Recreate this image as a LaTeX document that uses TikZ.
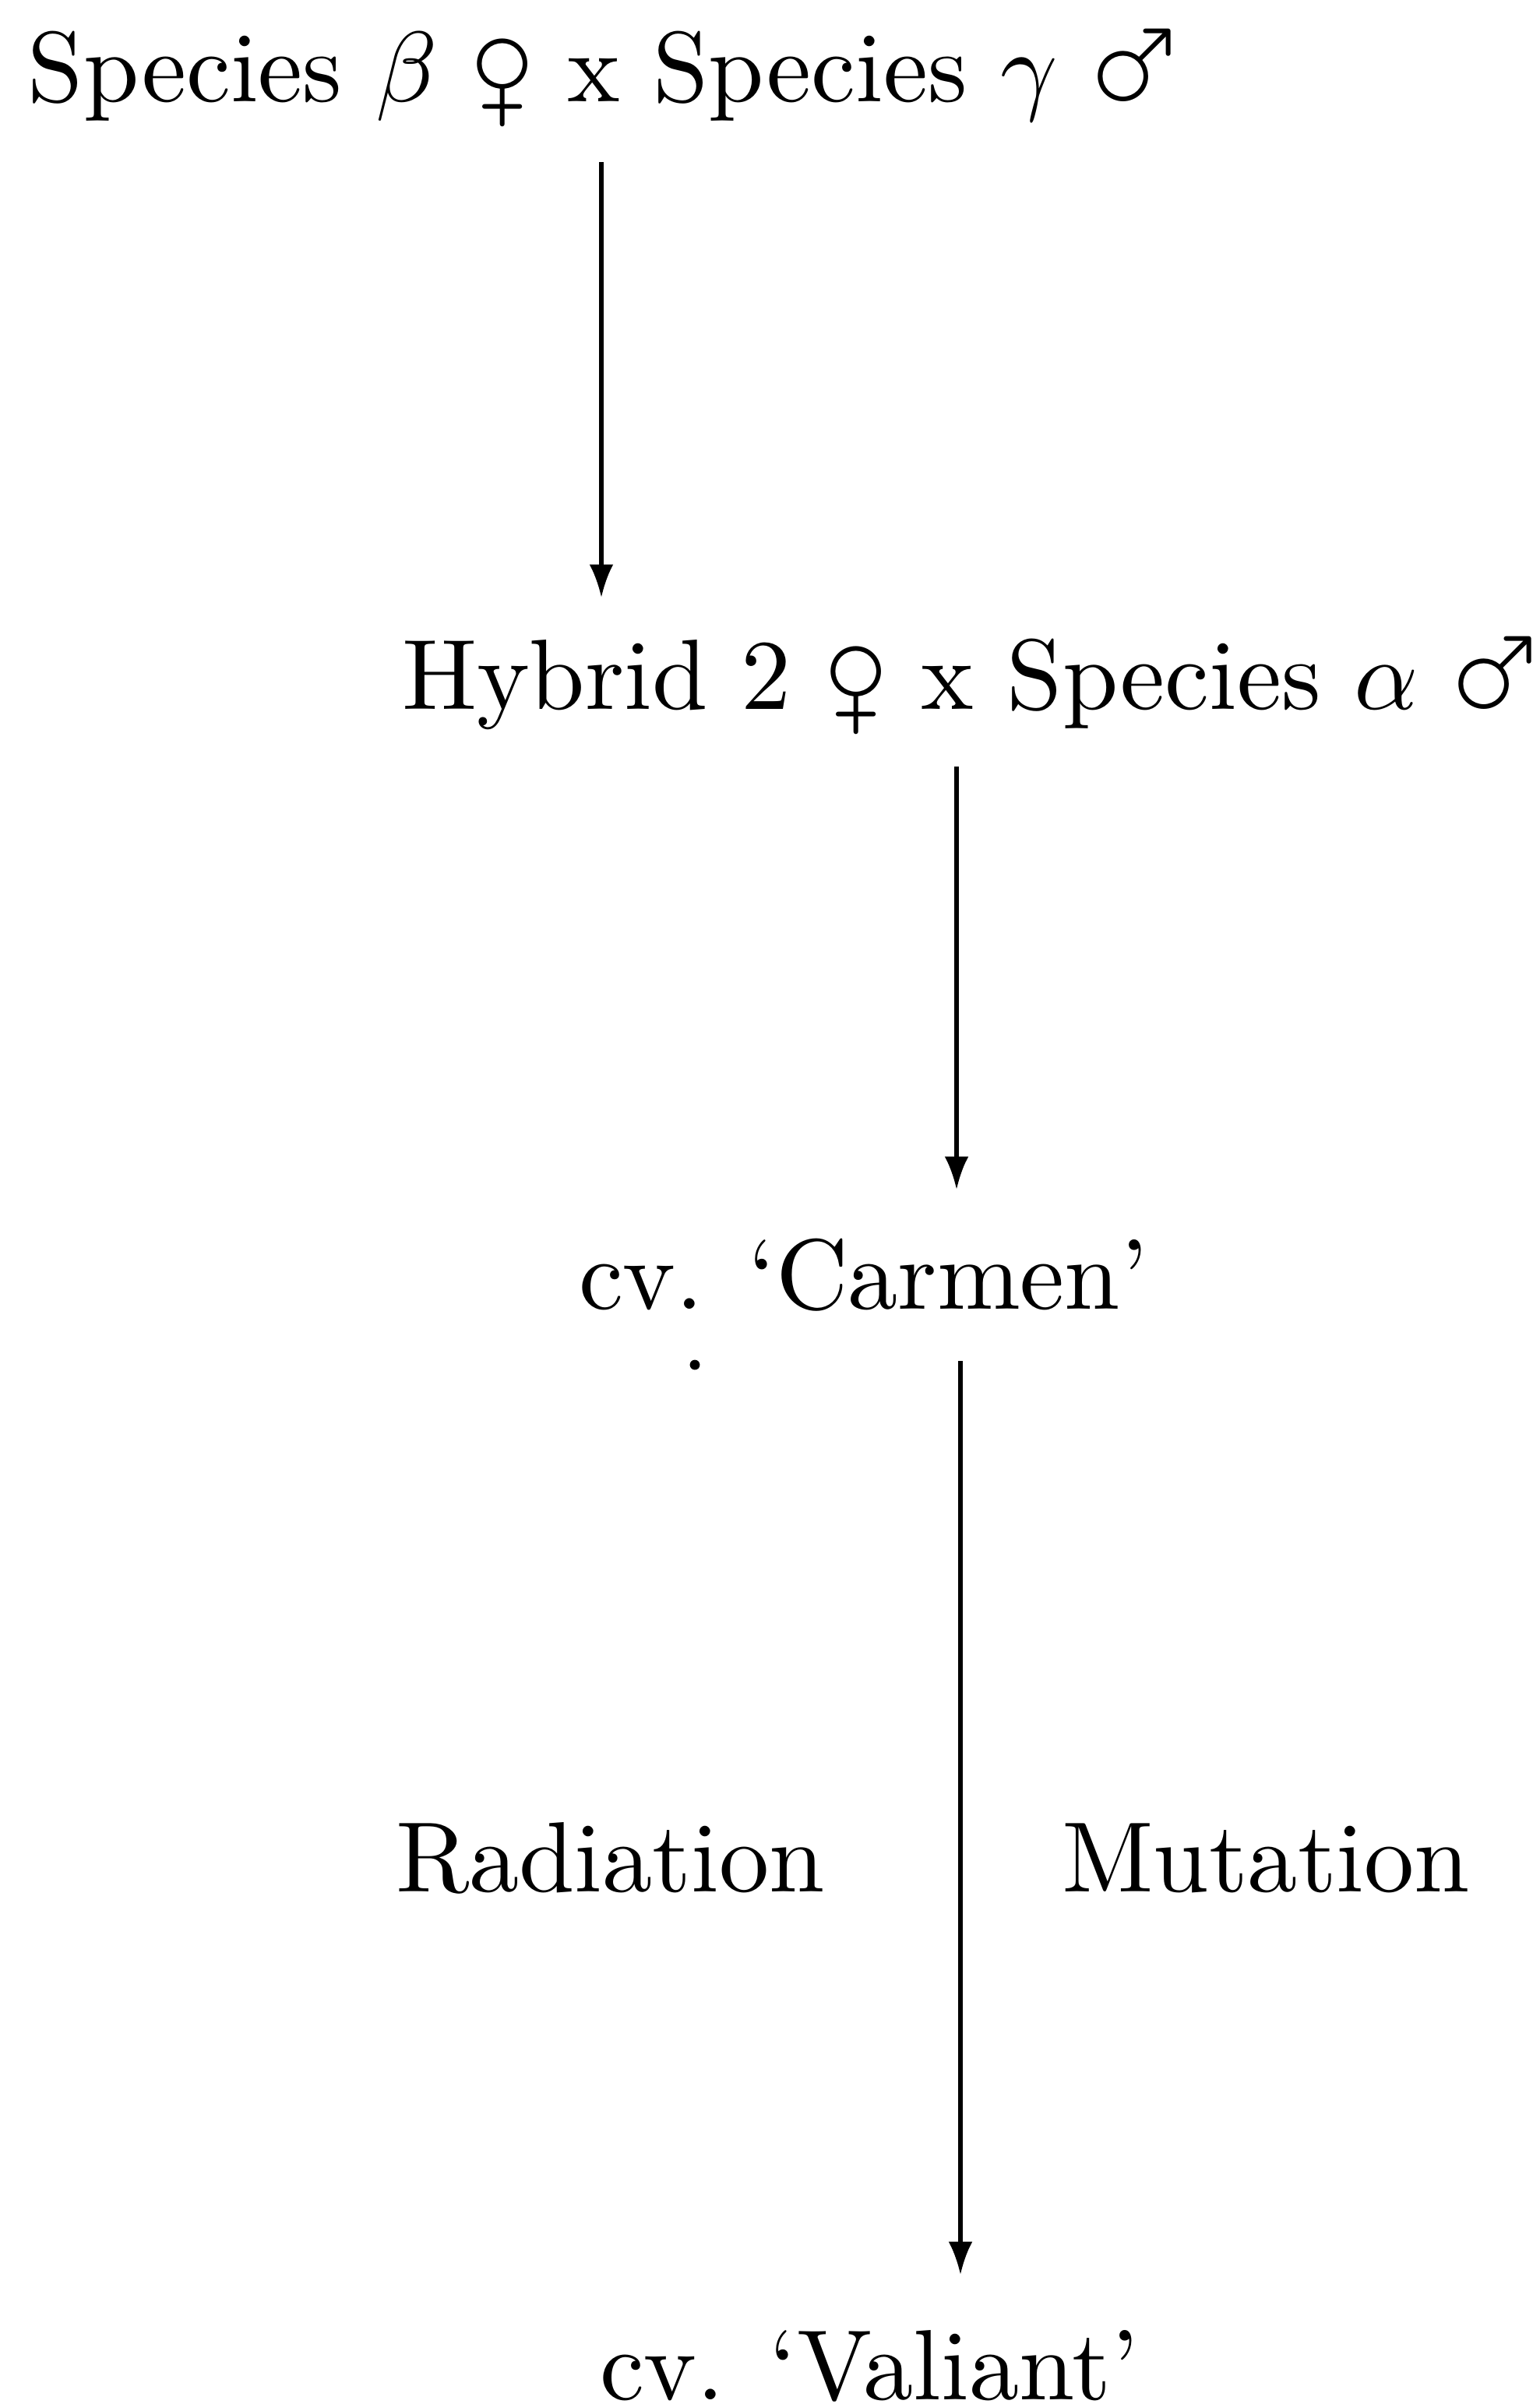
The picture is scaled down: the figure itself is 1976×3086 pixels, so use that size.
\documentclass[tikz,border=0pt]{standalone}
\usepackage{wasysym}
\usetikzlibrary{arrows.meta,calc}
\newcommand\femsym{\scalebox{1.17}{\female}}
\newcommand\malsym{\scalebox{1.17}{\male}}
\tikzset{
  lbl/.style={inner sep=0pt, outer sep=0pt, anchor=base west, font=\fontsize{10}{12}\selectfont},
  arr/.style={line width=0.4pt, -{Latex[length=3.3pt,width=2.4pt]}},
}
\begin{document}
\begin{tikzpicture}[x=0.07794pt,y=-0.07794pt]
\useasboundingbox (0,0) rectangle (1976,3086);
\node[lbl] (top) at (36,131) {Species $\beta$ \femsym{} x Species $\gamma$ \malsym};
\node[lbl] (hyb) at (516,910) {Hybrid 2 \femsym{} x Species $\alpha$ \malsym};
\node[lbl] (car) at (743,1680) {cv. `Carmen'};
\node[lbl] (rad) at (508,2428) {Radiation};
\node[lbl] (mut) at (1363,2428) {Mutation};
\node[lbl] (val) at (770,3080) {cv. `Valiant'};
\coordinate (xa) at (772,0);
\coordinate (xb) at (1228,0);
\coordinate (xc) at (1233,0);
\draw[arr] ($(top.base -| xa)+(0,77)$) -- ($(hyb.base -| xa)+(0,-143)$);
\draw[arr] ($(hyb.base -| xb)+(0,74)$) -- ($(car.base -| xb)+(0,-153)$);
\draw[arr] ($(car.base -| xc)+(0,67)$) -- ($(val.base -| xc)+(0,-160)$);
\fill (892,1752) circle (0.5pt);
\end{tikzpicture}
\end{document}
